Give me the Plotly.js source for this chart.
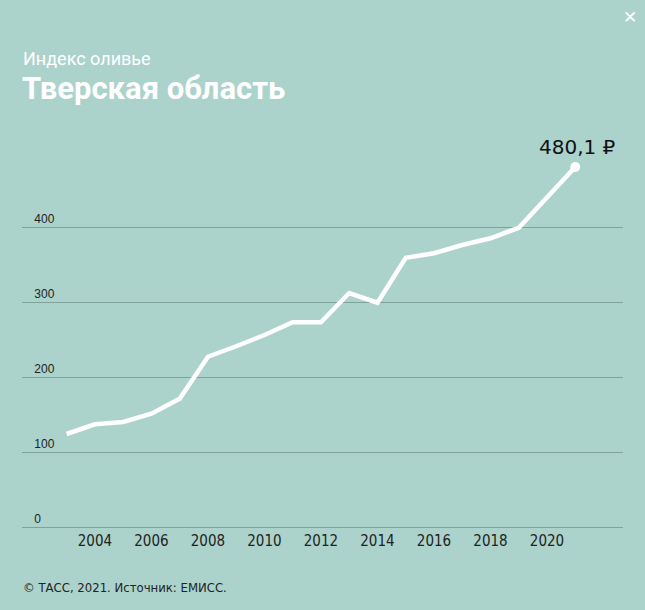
<!DOCTYPE html>
<html><head><meta charset="utf-8">
<script src="https://cdn.plot.ly/plotly-3.0.1.min.js"></script>
<style>html,body{margin:0;padding:0;background:#abd3cb;}#chart{width:645px;height:610px;}</style>
</head><body><div id="chart"></div>
<script>
const years = [2003,2004,2005,2006,2007,2008,2009,2010,2011,2012,2013,2014,2015,2016,2017,2018,2019,2020,2021];
const values = [124,137,140,151,171,227,241,256,273,273,312,299,359,365,376,385,399,439,480.1];
const xTicks = [2004,2006,2008,2010,2012,2014,2016,2018,2020];
const yTicks = [0,100,200,300,400];
const lastLabel = '480,1 ₽';

const W=645,H=610,L=22,R=22,T=152,B=83;
const pw=W-L-R, ph=H-T-B;
const px=x=>(x-L)/pw, py=y=>(H-B-y)/ph;
const bg='#abd3cb';
const grid='#7fa29b';

const data=[
 {x:years,y:values,type:'scatter',mode:'lines',line:{color:'#ffffff',width:4.5},hoverinfo:'skip'},
 {x:[years[years.length-1]],y:[values[values.length-1]],type:'scatter',mode:'markers',
  marker:{color:'#ffffff',size:10},hoverinfo:'skip'}
];
const layout={
 width:W,height:H,margin:{l:L,r:R,t:T,b:B},
 paper_bgcolor:bg,plot_bgcolor:bg,showlegend:false,
 xaxis:{range:[2001.42,2022.69],tickvals:xTicks,ticktext:xTicks.map(String),showgrid:false,zeroline:false,
  showline:true,linecolor:grid,linewidth:1,ticks:'',
  tickfont:{family:'Liberation Sans Narrow, DejaVu Sans Condensed, sans-serif',size:15,color:'#222'},fixedrange:true},
 yaxis:{range:[0,500],tickvals:yTicks,ticktext:yTicks.map(v=>'\u00a0'+v),showgrid:true,gridcolor:grid,gridwidth:1,
  zeroline:false,ticklabelposition:'inside top',tickfont:{family:'Liberation Sans, Arial, sans-serif',size:12,color:'#222'},
  ticklabelstandoff:6,fixedrange:true},
 annotations:[
  {xref:'paper',yref:'paper',x:px(21),y:py(46),xanchor:'left',yanchor:'top',showarrow:false,
   text:'Индекс оливье',font:{family:'Roboto, sans-serif',size:18,color:'#ffffff'}},
  {xref:'paper',yref:'paper',x:px(20),y:py(68),xanchor:'left',yanchor:'top',showarrow:false,
   text:'<b>Тверская область</b>',font:{family:'Roboto, sans-serif',size:31,color:'#ffffff'}},
  {xref:'paper',yref:'paper',x:px(21),y:py(578),xanchor:'left',yanchor:'top',showarrow:false,
   text:'© ТАСС, 2021. Источник: ЕМИСС.',font:{family:'Liberation Sans Narrow, DejaVu Sans Condensed, sans-serif',size:13,color:'#222'}},
  {xref:'paper',yref:'paper',x:px(630),y:py(17),xanchor:'center',yanchor:'middle',showarrow:false,
   text:'<b>✕</b>',font:{family:'DejaVu Sans, sans-serif',size:17,color:'#ffffff'}},
  {xref:'x',yref:'y',x:years[years.length-1],y:values[values.length-1],xanchor:'center',yanchor:'bottom',
   xshift:2,yshift:6,showarrow:false,text:lastLabel,font:{family:'DejaVu Sans, Roboto, sans-serif',size:20,color:'#111'}}
 ]
};
Plotly.newPlot('chart',data,layout,{displayModeBar:false,staticPlot:true});
</script></body></html>
